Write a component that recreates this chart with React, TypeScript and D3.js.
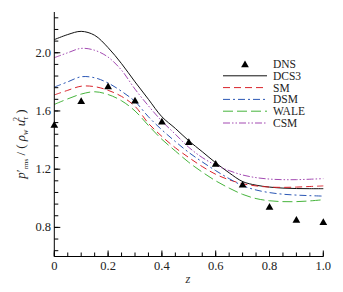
import React from "react";
import * as d3 from "d3";

const zGrid = [0, 0.05, 0.1, 0.15, 0.2, 0.25, 0.3, 0.35, 0.4, 0.45, 0.5, 0.55, 0.6, 0.65, 0.7, 0.75, 0.8, 0.85, 0.9, 0.95, 1.0];
const dcs3 = [2.09, 2.125, 2.147, 2.12, 2.035, 1.925, 1.8, 1.68, 1.56, 1.48, 1.395, 1.32, 1.244, 1.175, 1.115, 1.09, 1.077, 1.07, 1.067, 1.066, 1.066];
const sm = [1.71, 1.742, 1.77, 1.767, 1.742, 1.7, 1.632, 1.515, 1.425, 1.347, 1.28, 1.218, 1.165, 1.127, 1.1, 1.085, 1.077, 1.075, 1.077, 1.081, 1.085];
const dsm = [1.764, 1.8, 1.835, 1.828, 1.792, 1.735, 1.665, 1.56, 1.47, 1.39, 1.315, 1.25, 1.19, 1.135, 1.087, 1.057, 1.039, 1.028, 1.022, 1.018, 1.015];
const wale = [1.645, 1.683, 1.716, 1.732, 1.713, 1.67, 1.6, 1.5, 1.405, 1.325, 1.247, 1.18, 1.12, 1.07, 1.027, 0.998, 0.983, 0.977, 0.977, 0.982, 0.99];
const csm = [1.966, 2.0, 2.03, 2.017, 1.97, 1.88, 1.75, 1.635, 1.53, 1.44, 1.35, 1.28, 1.228, 1.19, 1.16, 1.142, 1.132, 1.128, 1.128, 1.131, 1.135];

const dnsZ = [0, 0.1, 0.2, 0.3, 0.4, 0.5, 0.6, 0.7, 0.8, 0.9, 1.0];
const dnsVal = [1.5, 1.663, 1.764, 1.667, 1.523, 1.381, 1.232, 1.09, 0.937, 0.847, 0.832];

const xTicks = [0, 0.2, 0.4, 0.6, 0.8, 1.0];
const yTicks = [0.8, 1.2, 1.6, 2.0];

const seriesNames = ["DCS3", "SM", "DSM", "WALE", "CSM"];
const seriesData = [dcs3, sm, dsm, wale, csm];
const seriesColors = ["#111111", "#d9232b", "#2b57b5", "#46b43c", "#a34ab2"];
const seriesDash = ["none", "7,4", "7,3,2,3", "10,4", "7,2,1.5,2,1.5,2"];

const FONT = "'Liberation Serif', 'DejaVu Serif', 'Times New Roman', serif";

export default function App() {
  const x = d3.scaleLinear().domain([0, 1]).range([54.3, 323.3]);
  const y = d3.scaleLinear().domain([0.6, 2.28]).range([256.5, 12]);
  const line = d3
    .line<number>()
    .x((_, i) => x(zGrid[i]))
    .y((d) => y(d))
    .curve(d3.curveCatmullRom);

  const xMinor = d3.range(0, 1.0001, 0.05);
  const yMinor = d3.range(0.64, 2.25, 0.08);
  const x0 = x(0);
  const yb = y(0.6);
  const tri = d3.symbol().type(d3.symbolTriangle).size(26)();
  const ts = { fontFamily: FONT } as React.CSSProperties;

  const legX0 = 223;
  const legX1 = 267;
  const legTextX = 273;
  const legRow0 = 64;
  const legStep = 11.8;

  return (
    <svg
      width={343}
      height={292}
      style={{ position: "absolute", left: 0, top: 0, background: "#fff", fontFamily: FONT }}
    >
      <rect width={343} height={292} fill="#fff" />
      {seriesData.map((s, k) => (
        <path
          key={k}
          d={line(s) || ""}
          fill="none"
          stroke={seriesColors[k]}
          strokeWidth={1}
          strokeDasharray={seriesDash[k]}
        />
      ))}
      {dnsZ.map((z, i) => (
        <path key={i} d={tri || ""} transform={`translate(${x(z)},${y(dnsVal[i])})`} fill="#000" />
      ))}
      <line x1={x0} x2={x0} y1={y(2.28)} y2={yb} stroke="#000" strokeWidth={1} />
      <line x1={x0} x2={x(1)} y1={yb} y2={yb} stroke="#000" strokeWidth={1} />
      {xMinor.map((t, i) => (
        <line key={i} x1={x(t)} x2={x(t)} y1={yb} y2={yb - 4} stroke="#000" strokeWidth={1} />
      ))}
      {xTicks.map((t, i) => (
        <line key={i} x1={x(t)} x2={x(t)} y1={yb} y2={yb - 6} stroke="#000" strokeWidth={1} />
      ))}
      {yMinor.map((t, i) => (
        <line key={i} x1={x0} x2={x0 + 4} y1={y(t)} y2={y(t)} stroke="#000" strokeWidth={1} />
      ))}
      {yTicks.map((t, i) => (
        <line key={i} x1={x0} x2={x0 + 6} y1={y(t)} y2={y(t)} stroke="#000" strokeWidth={1} />
      ))}
      {xTicks.map((t, i) => (
        <text key={i} x={x(t)} y={270} textAnchor="middle" fontSize={12.5} fill="#222" style={ts}>
          {t === 0 ? "0" : t.toFixed(1)}
        </text>
      ))}
      {yTicks.map((t, i) => (
        <text key={i} x={51} y={y(t) + 4} textAnchor="end" fontSize={12.5} fill="#222" style={ts}>
          {t.toFixed(1)}
        </text>
      ))}
      <text x={188} y={283} textAnchor="middle" fontSize={12.5} fontStyle="italic" fill="#333" style={ts}>
        z
      </text>
      <text transform="translate(25,144) rotate(-90)" textAnchor="middle" fontSize={13} fill="#222" style={ts}>
        <tspan fontStyle="italic">p</tspan>
        <tspan>′</tspan>
        <tspan fontSize={7} dy={3}>rms</tspan>
        <tspan dy={-3}> / ( </tspan>
        <tspan fontStyle="italic">ρ</tspan>
        <tspan fontSize={8} fontStyle="italic" dy={3}>w</tspan>
        <tspan fontStyle="italic" dy={-3}> u</tspan>
        <tspan fontSize={8} fontStyle="italic" dy={3}>τ</tspan>
        <tspan fontSize={8} dx={-4} dy={-9}>2</tspan>
        <tspan dy={6}> )</tspan>
      </text>
      <path d={tri || ""} transform={`translate(${(legX0 + legX1) / 2},${legRow0 + 1})`} fill="#000" />
      <text x={legTextX} y={legRow0 + 4} fontSize={11.5} fill="#222" style={ts}>
        DNS
      </text>
      {seriesNames.map((n, k) => {
        const yy = legRow0 + legStep * (k + 1);
        return (
          <g key={k}>
            <line
              x1={legX0}
              x2={legX1}
              y1={yy}
              y2={yy}
              stroke={seriesColors[k]}
              strokeWidth={1}
              strokeDasharray={seriesDash[k]}
            />
            <text x={legTextX} y={yy + 4} fontSize={11.5} fill="#222" style={ts}>
              {n}
            </text>
          </g>
        );
      })}
    </svg>
  );
}
